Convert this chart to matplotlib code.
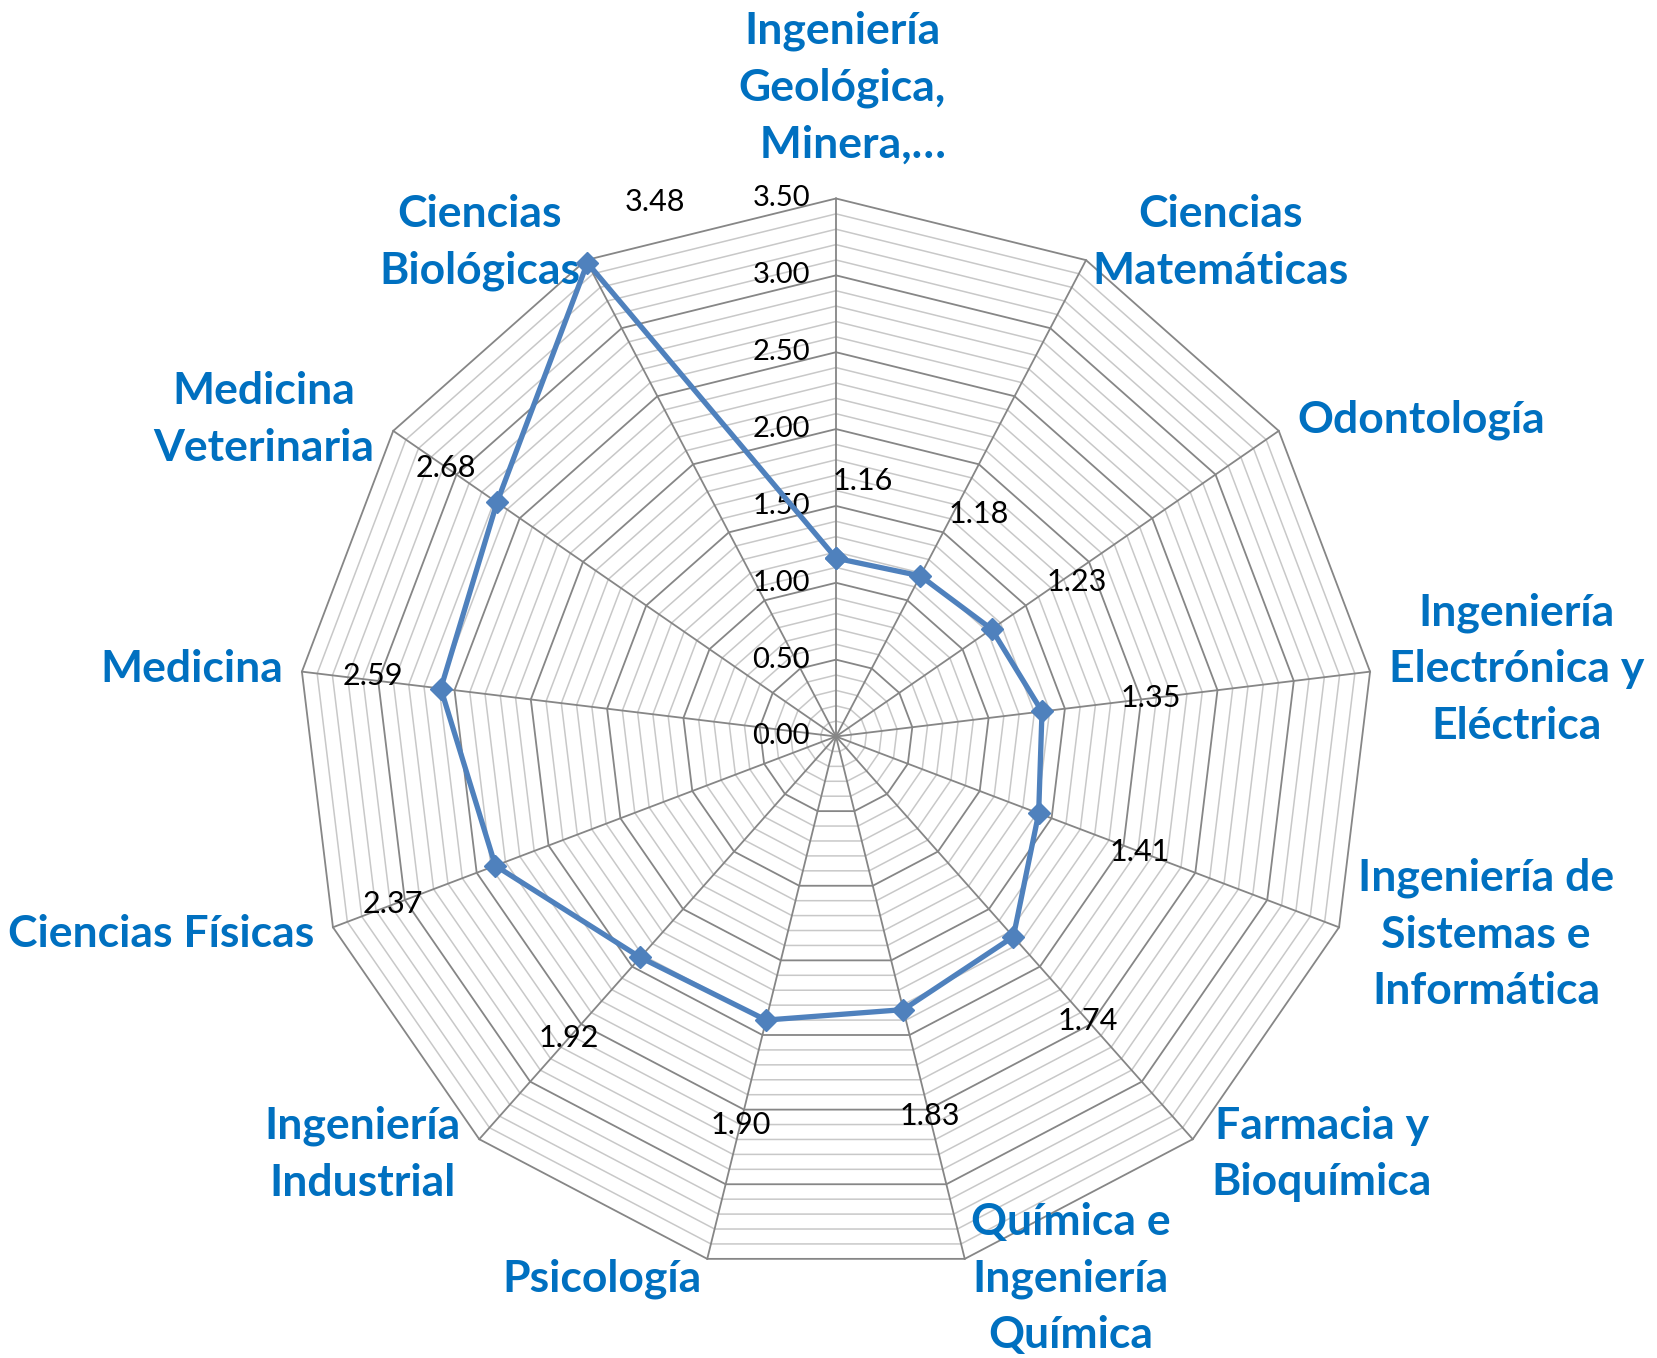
import numpy as np
import matplotlib
matplotlib.use("Agg")
import matplotlib.pyplot as plt

# categorias en orden horario, empezando arriba
categories = [
    "Ingeniería\nGeológica,\n  Minera,…",
    "Ciencias\nMatemáticas",
    "Odontología",
    "Ingeniería\nElectrónica y\nEléctrica",
    "Ingeniería de\nSistemas e\nInformática",
    "Farmacia y\nBioquímica",
    "Química e\nIngeniería\nQuímica",
    "Psicología",
    "Ingeniería\nIndustrial",
    "Ciencias Físicas",
    "Medicina",
    "Medicina\nVeterinaria",
    "Ciencias\nBiológicas",
]
values = [1.16, 1.18, 1.23, 1.35, 1.41, 1.74, 1.83, 1.90, 1.92, 2.37, 2.59, 2.68, 3.48]
tick_values = [0.0, 0.5, 1.0, 1.5, 2.0, 2.5, 3.0, 3.5]

# posicion de las etiquetas de datos (radio, desvio angular en grados)
label_r = [1.67, 1.72, 1.86, 2.06, 2.11, 2.47, 2.54, 2.60, 2.62, 3.08, 3.04, 3.08, 3.67]
label_dtheta = [6, 5, 2, 0, 0, 0, 0, 0, 0, 0, 0.5, 0, 9]

R_MAX = 3.5
BLUE = "#0070C0"
LINE = "#4F81BD"

W, H = 1657, 1358
fig = plt.figure(figsize=(W / 100, H / 100), dpi=100)
cx, cy, rad = 836, 736.5, 538
ax = fig.add_axes([(cx - rad) / W, (H - cy - rad) / H, 2 * rad / W, 2 * rad / H],
                  projection="polar")
ax.set_theta_zero_location("N")
ax.set_theta_direction(-1)
ax.set_ylim(0, R_MAX)
ax.grid(False)
ax.spines["polar"].set_visible(False)
ax.set_xticks([])
ax.set_yticks([])
ax.patch.set_alpha(0)

n = len(categories)
angles = np.linspace(0, 2 * np.pi, n, endpoint=False)
closed = np.append(angles, angles[0])

# anillos poligonales (menores cada 0.1, mayores cada 0.5)
for k in range(1, 36):
    r = k / 10
    major = k % 5 == 0
    ax.plot(closed, [r] * (n + 1),
            color="#868686" if major else "#C8C8C8",
            lw=1.3 if major else 1.1, zorder=2 if major else 1, clip_on=False)

# radios
for a in angles:
    ax.plot([a, a], [0, R_MAX], color="#868686", lw=1.3, zorder=2, clip_on=False)

# etiquetas del eje
for t in tick_values:
    ax.annotate(f"{t:.2f}", xy=(0, t), xytext=(-26, 0), textcoords="offset pixels",
                ha="right", va="center", fontsize=21, family="Lato", color="black")

# serie
ax.plot(np.append(angles, angles[0]), values + values[:1], color=LINE, lw=3.8,
        marker="D", ms=11, mfc=LINE, mec=LINE, zorder=5, clip_on=False)

# etiquetas de datos
for a, v, r, d in zip(angles, values, label_r, label_dtheta):
    ax.text(a + np.deg2rad(d), r, f"{v:.2f}", ha="center", va="center",
            fontsize=22, family="Lato", color="black", zorder=6)

# nombres de categorias
for a, name in zip(angles, categories):
    s, c = np.sin(a), np.cos(a)
    if abs(s) < 0.05:
        ha, va, off = "center", "bottom", (6, 34)
    else:
        ha = "left" if s > 0 else "right"
        va = "center"
        pad = 19 if abs(s) > 0.5 else 6
        off = (pad if s > 0 else -pad, 20 * c)
    ax.annotate(name, xy=(a, R_MAX), xytext=off, textcoords="offset pixels",
                ha=ha, va=va, multialignment="center", fontsize=32,
                family="Lato", fontweight="bold", color=BLUE, linespacing=1.5,
                annotation_clip=False)

fig.savefig("out.png", dpi=100)
